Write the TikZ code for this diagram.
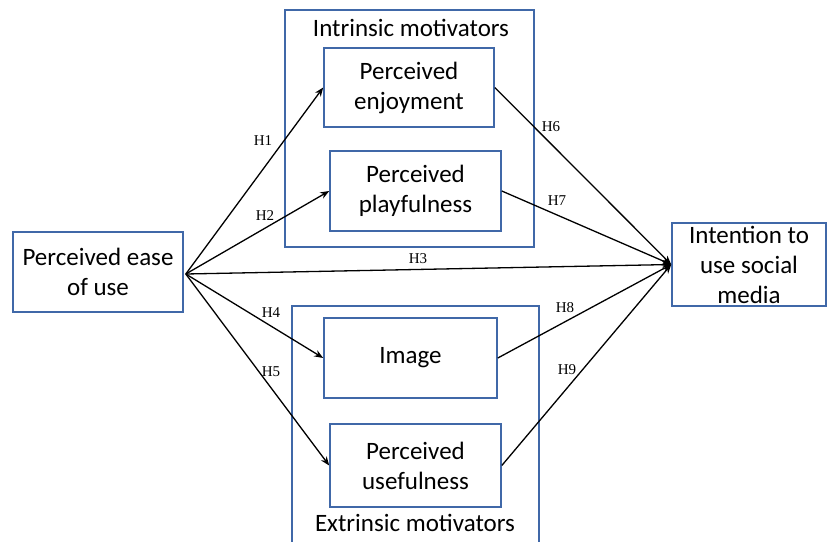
\documentclass[tikz,border=0pt]{standalone}
\usepackage{fontspec}
\setmainfont{Carlito}
\newfontfamily\labfont{Liberation Serif}
\usetikzlibrary{arrows.meta}
\definecolor{boxblue}{RGB}{64,104,168}
\begin{document}
\begin{tikzpicture}[x=1pt,y=-1pt,
  box/.style={draw=boxblue,line width=1.6pt,align=center,inner sep=0pt,
    font=\fontsize{25}{30}\selectfont},
  grp/.style={draw=boxblue,line width=1.6pt},
  ttl/.style={font=\fontsize{25}{30}\selectfont,inner sep=0pt},
  hyp/.style={font=\labfont\fontsize{15}{17}\selectfont,inner sep=0pt},
  arr/.style={draw=black,line width=1.3pt,-{Stealth[length=9pt,width=7pt]}}]
\useasboundingbox (0,0) rectangle (829,541);
\clip (0,0) rectangle (829,541);
\fill[white] (0,0) rectangle (829,541);
% group frames
\draw[grp] (285,10) rectangle (534,247);
\draw[grp] (292,306) rectangle (539,570);
\node[ttl] (tin) at (411,28) {Intrinsic motivators};
\node[ttl] (tex) at (415,523) {Extrinsic motivators};
% boxes
\node[box,minimum width=170pt,minimum height=80pt] (ease) at (98,272) {Perceived ease\\of use};
\node[box,minimum width=170pt,minimum height=79pt] (enj) at (409,87.5) {Perceived\\enjoyment};
\node[box,minimum width=171pt,minimum height=80pt] (play) at (415.5,191) {Perceived\\playfulness};
\node[box,minimum width=173pt,minimum height=80pt] (img) at (410.5,358) {Image};
\node[box,minimum width=171pt,minimum height=83pt] (use) at (415.5,465.5) {Perceived\\usefulness};
\node[box,minimum width=154pt,minimum height=83pt] (int) at (749,264.5) {Intention to\\use social\\media};
% connectors
\coordinate (src) at ([xshift=2pt,yshift=-2pt]ease.east);
\coordinate (dst) at ([yshift=0pt]int.west);
\draw[arr] (src) -- (enj.west);
\draw[arr] (src) -- (play.west);
\draw[arr] (src) -- (dst);
\draw[arr] (src) -- (img.west);
\draw[arr] (src) -- (use.west);
\draw[arr] (enj.east) -- (dst);
\draw[arr] (play.east) -- (dst);
\draw[arr] (img.east) -- (dst);
\draw[arr] (use.east) -- (dst);
% labels
\node[hyp] (h1) at (263,141) {H1};
\node[hyp] (h2) at (265,216) {H2};
\node[hyp] (h3) at (418,259) {H3};
\node[hyp] (h4) at (271,313) {H4};
\node[hyp] (h5) at (271,372) {H5};
\node[hyp] (h6) at (551,127) {H6};
\node[hyp] (h7) at (557,201) {H7};
\node[hyp] (h8) at (565,308) {H8};
\node[hyp] (h9) at (567,370) {H9};
\end{tikzpicture}
\end{document}
